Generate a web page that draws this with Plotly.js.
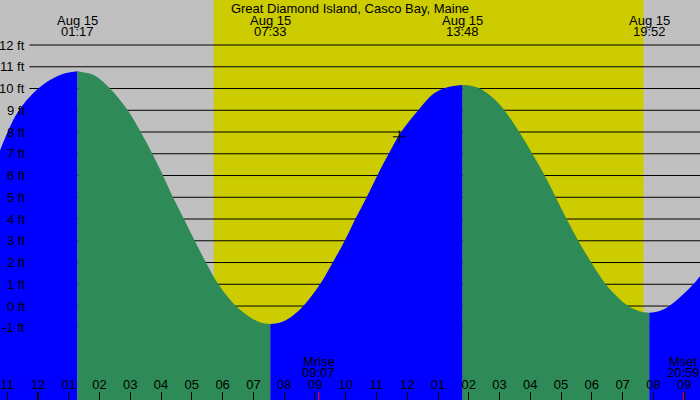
<!DOCTYPE html>
<html>
<head>
<meta charset="utf-8">
<script src="https://cdn.plot.ly/plotly-3.0.1.min.js"></script>
<style>
  body { margin: 0; padding: 0; }
  #tide { width: 700px; height: 400px; }
</style>
</head>
<body>
<div id="tide"></div>
<script>
// tide height in ft, hours from midnight Aug 15
const tideHours = [-1.5, -0.91, -0.61, -0.16, 0.39, 0.88, 1.283,
  1.7, 1.908, 2.34, 2.915, 3.338, 3.715, 4.062, 4.387, 4.745, 5.093, 5.46, 5.86, 6.435, 6.875, 7.25, 7.55,
  7.85, 8.225, 8.622, 9.165, 9.578, 9.968, 10.312, 10.682, 11.027, 11.398, 11.8, 12.36, 12.8, 13.172, 13.5, 13.8,
  14.1, 14.365, 14.8, 15.154, 15.642, 16.064, 16.467, 16.825, 17.182, 17.559, 17.982, 18.45, 18.8, 19.184, 19.55, 19.867,
  20.2, 20.517, 21.297, 21.7]
const tideFeet = [6.2, 8.24, 9.01, 9.78, 10.39, 10.7, 10.8,
  10.68, 10.54, 10, 9, 8, 7, 6, 5, 4, 3, 2, 1, 0, -0.5, -0.77, -0.83,
  -0.77, -0.5, 0, 1, 2, 3, 4, 5, 6, 7, 8, 9, 9.7, 10, 10.12, 10.16,
  10.12, 10, 9.55, 9, 8, 7, 6, 5, 4, 3, 2, 1, 0.46, 0, -0.24, -0.31,
  -0.23, 0, 1, 1.72]

const extremeHours = [1.283, 7.55, 13.8, 19.867]
const extremeTimes = ['01:17', '07:33', '13:48', '19:52']
const extremeDate = 'Aug 15'

const hourTicks = [-1, 0, 1, 2, 3, 4, 5, 6, 7, 8, 9, 10, 11, 12, 13, 14, 15, 16, 17, 18, 19, 20, 21]
const hourLabels = ['11', '12', '01', '02', '03', '04', '05', '06', '07', '08', '09', '10',
  '11', '12', '01', '02', '03', '04', '05', '06', '07', '08', '09']
const feetTicks = [-1, 0, 1, 2, 3, 4, 5, 6, 7, 8, 9, 10, 11, 12]

const sunriseHour = 5.71
const sunsetHour = 19.68
const moonHours = [9.117, 20.983]
const moonNames = ['Mrise', 'Mset']
const moonTimes = ['09:07', '20:59']
const nowHour = [11.74]
const nowFeet = [7.78]

const RISE = '#0000ff'
const FALL = '#2e8b57'
const FLOOR = -6
const FONT = { family: 'Liberation Sans, Arial, sans-serif', size: 13, color: '#000' }

// split the curve at each high / low so rising and falling get their own colour
let segs = []
let cur = { x: [tideHours[0]], y: [tideFeet[0]], up: tideFeet[1] > tideFeet[0] }
for (let i = 1; i < tideHours.length; i++) {
  cur.x.push(tideHours[i])
  cur.y.push(tideFeet[i])
  if (i < tideHours.length - 1 && (tideFeet[i + 1] > tideFeet[i]) != cur.up) {
    segs.push(cur)
    cur = { x: [tideHours[i]], y: [tideFeet[i]], up: !cur.up }
  }
}
segs.push(cur)

let data = []
segs.forEach(function (s) {
  data.push({
    x: [s.x[0], s.x[s.x.length - 1]],
    y: [FLOOR, FLOOR],
    mode: 'lines',
    line: { width: 0 },
    hoverinfo: 'skip',
    showlegend: false
  })
  data.push({
    x: s.x,
    y: s.y,
    mode: 'lines',
    line: { width: 0, shape: 'spline', smoothing: 1 },
    fill: 'tonexty',
    fillcolor: s.up ? RISE : FALL,
    hoverinfo: 'skip',
    showlegend: false
  })
})
data.push({
  x: nowHour,
  y: nowFeet,
  mode: 'markers',
  marker: { symbol: 'cross-thin', size: 9, line: { color: '#000', width: 1 } },
  hoverinfo: 'skip',
  showlegend: false
})

let shapes = [{
  type: 'rect', xref: 'x', yref: 'paper',
  x0: sunriseHour, x1: sunsetHour, y0: 0, y1: 1,
  fillcolor: '#cccc00', line: { width: 0 }, layer: 'below'
}]
feetTicks.forEach(function (ft) {
  shapes.push({
    type: 'line', xref: 'paper', yref: 'y',
    x0: 0.042, x1: 1, y0: ft, y1: ft,
    line: { color: '#000', width: 1 }, layer: 'below'
  })
})
shapes.push({
  type: 'line', xref: 'x', yref: 'paper',
  x0: 0, x1: 0, y0: 0, y1: 0.02,
  line: { color: '#000', width: 2 }
})
moonHours.forEach(function (h) {
  shapes.push({
    type: 'line', xref: 'x', yref: 'paper',
    x0: h, x1: h, y0: 0, y1: 0.02,
    line: { color: '#ff0000', width: 1 }
  })
})

let annotations = []
extremeHours.forEach(function (h, i) {
  annotations.push({ x: h, xref: 'x', y: 0.95, yref: 'paper', text: extremeDate,
    showarrow: false, yanchor: 'middle', font: FONT })
  annotations.push({ x: h, xref: 'x', y: 0.92, yref: 'paper', text: extremeTimes[i],
    showarrow: false, yanchor: 'middle', font: FONT })
})
feetTicks.forEach(function (ft) {
  annotations.push({ x: 0.039, xref: 'paper', xanchor: 'right', y: ft, yref: 'y',
    text: ft + ' ft', showarrow: false, font: FONT })
})
moonHours.forEach(function (h, i) {
  annotations.push({ x: h, xref: 'x', y: 0.096, yref: 'paper', text: moonNames[i],
    showarrow: false, yanchor: 'middle', font: FONT })
  annotations.push({ x: h, xref: 'x', y: 0.068, yref: 'paper', text: moonTimes[i],
    showarrow: false, yanchor: 'middle', font: FONT })
})

let layout = {
  width: 700,
  height: 400,
  margin: { l: 0, r: 0, t: 0, b: 0 },
  paper_bgcolor: '#c0c0c0',
  plot_bgcolor: '#c0c0c0',
  font: FONT,
  showlegend: false,
  title: {
    text: 'Great Diamond Island, Casco Bay, Maine',
    x: 0.5, xanchor: 'center', y: 0.98, yanchor: 'middle',
    font: FONT
  },
  xaxis: {
    range: [-1.235, 21.515],
    tickvals: hourTicks,
    ticktext: hourLabels,
    ticks: 'inside',
    ticklen: 8,
    tickcolor: '#000',
    tickwidth: 1,
    ticklabelposition: 'inside',
    showgrid: false,
    zeroline: false,
    showline: false,
    tickfont: FONT,
    fixedrange: true
  },
  yaxis: {
    range: [-4.32, 14.07],
    visible: false,
    showgrid: false,
    zeroline: false,
    fixedrange: true
  },
  shapes: shapes,
  annotations: annotations
}

Plotly.newPlot('tide', data, layout, { displayModeBar: false, staticPlot: true })
</script>
</body>
</html>
